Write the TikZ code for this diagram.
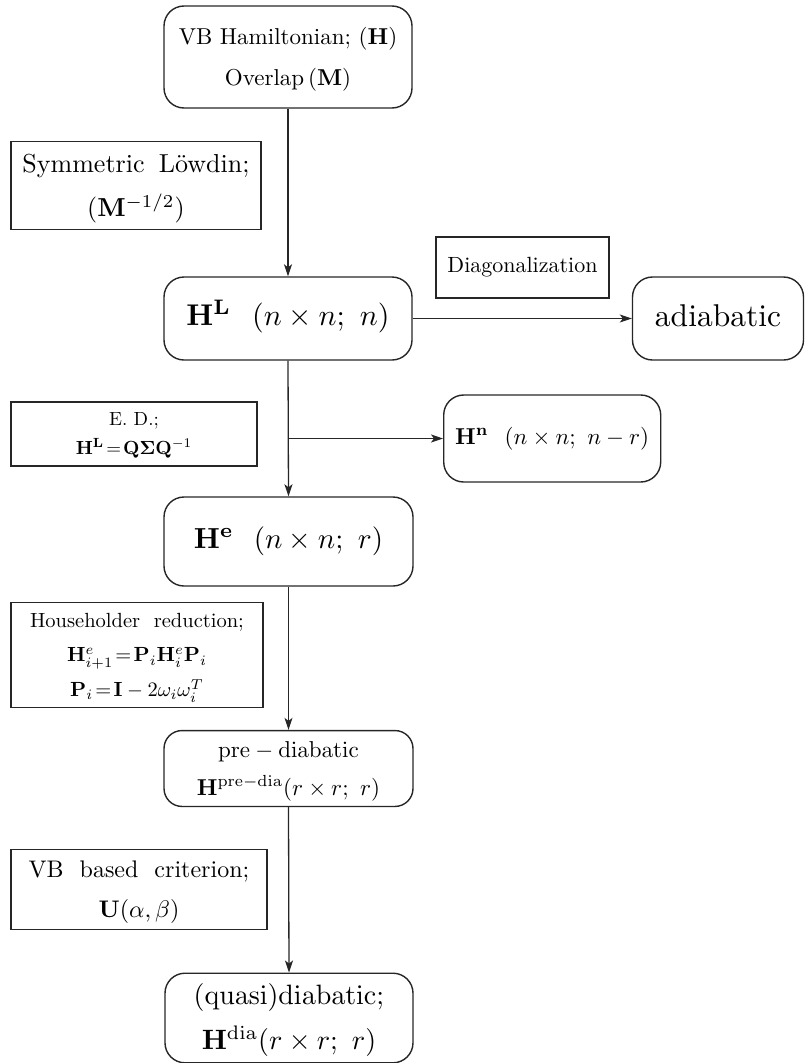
\documentclass[tikz,border=0pt]{standalone}
\usepackage{graphicx}
\usetikzlibrary{arrows.meta,positioning}
\tikzset{
  rbox/.style={draw=black!85, line width=1.4pt, rounded corners=20pt, inner sep=0pt, align=center},
  sbox/.style={draw=black!85, line width=1.4pt, inner sep=0pt, align=center},
  conn/.style={draw=black!85, line width=1.3pt, -{Stealth[length=12pt,width=8pt,inset=3pt]}},
}
% scaled text block: #1 scale, #2 baselineskip at 10pt, #3 lines
\newcommand{\tx}[3]{\scalebox{#1}{\fontsize{10}{#2}\selectfont\begin{tabular}{@{}c@{}}#3\end{tabular}}}
\begin{document}
\begin{tikzpicture}[x=1pt,y=-1pt]
\useasboundingbox (0,0) rectangle (804,1063);

\node[rbox, minimum width=248pt, minimum height=102pt] (top) at (288,57)
  {\tx{2.3}{17.4}{VB Hamiltonian; ($\mathbf{H}$)\\ Overlap\,($\mathbf{M}$)}};

\node[sbox, minimum width=250pt, minimum height=87pt] (lowdin) at (136,185.5)
  {\tx{2.6}{17}{Symmetric\hspace{0.55em}L\"owdin;\\ ($\mathbf{M}^{-1/2}$)}};

\node[rbox, minimum width=248pt, minimum height=83pt] (HL) at (288,318.5)
  {\tx{3}{12}{$\mathbf{H}^{\mathbf{L}}\hspace{0.7em}(n\times n;\ n)$}};

\node[sbox, minimum width=173pt, minimum height=61pt] (diag) at (522.5,267.5)
  {\tx{2.2}{12}{Diagonalization}};

\node[rbox, minimum width=171pt, minimum height=83pt] (adia) at (718,318.5)
  {\tx{3.15}{12}{adiabatic}};

\node[sbox, minimum width=246pt, minimum height=64pt] (ed) at (134,434)
  {\tx{1.9}{15.3}{E.\ D.;\\ $\mathbf{H}^{\mathbf{L}}\!=\!\mathbf{Q}\mathbf{\Sigma}\mathbf{Q}^{-1}$}};

\node[rbox, anchor=west, minimum width=217pt, minimum height=87pt] (Hn) at (443,438.5)
  {\tx{2.3}{12}{$\mathbf{H}^{\mathbf{n}}\hspace{0.7em}(n\times n;\ n-r)$}};

\node[rbox, minimum width=249pt, minimum height=89pt] (He) at (288.5,541.5)
  {\tx{2.9}{12}{$\mathbf{H}^{\mathbf{e}}\hspace{0.7em}(n\times n;\ r)$}};

\node[sbox, minimum width=252pt, minimum height=96pt] (house) at (137,655)
  {\tx{2.05}{17}{Householder\ \ reduction;\\
   $\mathbf{H}^{e}_{i+1}\!=\!\mathbf{P}_i\mathbf{H}^{e}_i\mathbf{P}_i$\\
   $\mathbf{P}_i\!=\!\mathbf{I}-2\omega_i\omega_i^{T}$}};

\node[rbox, rounded corners=18pt, minimum width=249pt, minimum height=69pt] (pre) at (288.5,768.5)
  {\tx{2.3}{16.5}{$\mathrm{pre}-\mathrm{diabatic}$\\ $\mathbf{H}^{\mathrm{pre}-\mathrm{dia}}(r\times r;\ r)$}};

\node[sbox, minimum width=256pt, minimum height=79pt] (vb) at (139,889.5)
  {\tx{2.4}{16.7}{VB\ \ based\ \ criterion;\\ $\mathbf{U}(\alpha,\beta)$}};

\node[rbox, minimum width=248pt, minimum height=84pt] (dia) at (289,1018)
  {\tx{2.8}{16}{$(\mathrm{quasi})\mathrm{diabatic};$\\ $\mathbf{H}^{\mathrm{dia}}(r\times r;\ r)$}};

\coordinate (br) at (HL.south |- Hn.west);

\draw[conn] (top.south) -- (HL.north);
\draw[conn] (HL.east) -- (adia.west);
\draw[conn] (HL.south) -- (He.north);
\draw[conn] (br) -- (Hn.west);
\draw[conn] (He.south) -- (pre.north);
\draw[conn] (pre.south) -- (dia.north);
\end{tikzpicture}
\end{document}
